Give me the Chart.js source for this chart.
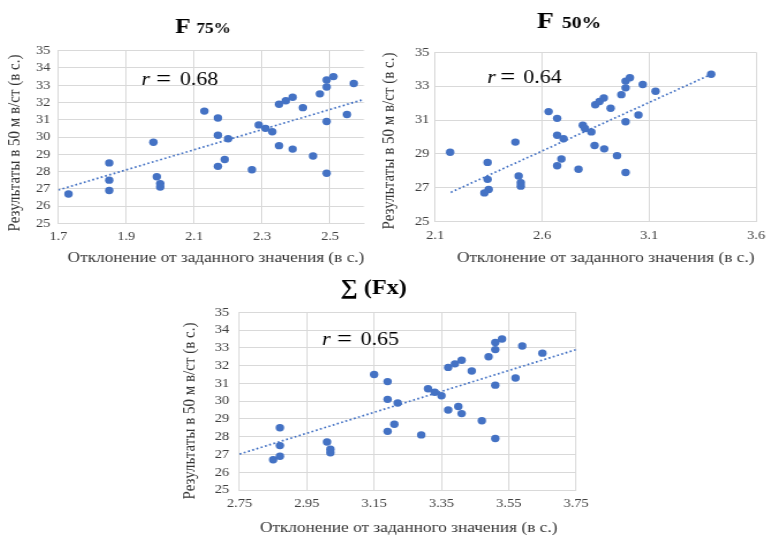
<!DOCTYPE html>
<html><head><meta charset="utf-8">
<script src="https://cdn.jsdelivr.net/npm/chart.js@4.4.1/dist/chart.umd.min.js"></script>
<style>
html,body{margin:0;padding:0;background:#fff;}
body{width:772px;height:535px;position:relative;overflow:hidden;}
.box{position:absolute;transform-origin:0 0;}
.box canvas{display:block;}
</style></head><body>
<div class="box" id="b1"><canvas id="c1"></canvas></div>
<div class="box" id="b2"><canvas id="c2"></canvas></div>
<div class="box" id="b3"><canvas id="c3"></canvas></div>
<script>
// ---------- data ----------
const x75 = [1.73,1.85,1.85,1.85,1.98,1.99,2.00,2.00,2.13,2.17,2.17,2.17,2.20,2.19,2.27,2.29,2.31,2.33,2.35,2.35,2.37,2.39,2.39,2.42,2.45,2.47,2.49,2.49,2.49,2.49,2.51,2.55,2.57];
const y75 = [26.7,28.5,27.5,26.9,29.7,27.7,27.3,27.1,31.5,31.1,30.1,28.3,29.9,28.7,28.1,30.7,30.5,30.3,31.9,29.5,32.1,32.3,29.3,31.7,28.9,32.5,33.3,32.9,30.9,27.9,33.5,31.3,33.1];
const trend75X = [1.7, 2.595];
const trend75Y = [26.93, 32.15];
const xTicks75 = [1.7, 1.9, 2.1, 2.3, 2.5];
const xLabels75 = ['1.7','1.9','2.1','2.3','2.5'];
const yTicks75 = [25,26,27,28,29,30,31,32,33,34,35];

const x50 = [2.17,2.345,2.345,2.35,2.33,2.475,2.49,2.50,2.50,2.63,2.67,2.67,2.67,2.70,2.69,2.77,2.79,2.80,2.83,2.848,2.868,2.888,2.845,2.89,2.92,2.95,2.97,2.99,2.99,2.99,2.99,3.01,3.05,3.07,3.13,3.39];
const y50 = [29.1,28.5,27.5,26.9,26.7,29.7,27.7,27.3,27.1,31.5,31.1,30.1,28.3,29.9,28.7,28.1,30.7,30.5,30.3,31.9,32.1,32.3,29.5,29.3,31.7,28.9,32.5,33.3,32.9,30.9,27.9,33.5,31.3,33.1,32.7,33.7];
const trend50X = [2.173, 3.39];
const trend50Y = [26.73, 33.7];
const xTicks50 = [2.1, 2.6, 3.1, 3.6];
const xLabels50 = ['2.1','2.6','3.1','3.6'];
const yTicks50 = [25,27,29,31,33,35];

const xFx = [2.85,2.87,2.87,2.87,3.01,3.02,3.02,3.15,3.19,3.19,3.19,3.22,3.21,3.29,3.31,3.33,3.35,3.37,3.37,3.39,3.41,3.40,3.41,3.44,3.47,3.49,3.51,3.51,3.51,3.51,3.53,3.57,3.59,3.65];
const yFx = [26.7,26.9,27.5,28.5,27.7,27.3,27.1,31.5,31.1,30.1,28.3,29.9,28.7,28.1,30.7,30.5,30.3,31.9,29.5,32.1,32.3,29.7,29.3,31.7,28.9,32.5,33.3,32.9,30.9,27.9,33.5,31.3,33.1,32.7];
const trendFxX = [2.75, 3.75];
const trendFxY = [27.02, 32.9];
const xTicksFx = [2.75, 2.95, 3.15, 3.35, 3.55, 3.75];
const xLabelsFx = ['2.75','2.95','3.15','3.35','3.55','3.75'];
const yTicksFx = [25,26,27,28,29,30,31,32,33,34,35];

const yTitle = 'Результаты в 50 м в/ст (в с.)';
const xTitle = 'Отклонение от заданного значения (в с.)';

// ---------- drawing ----------
const S = 1.15;
const FAM = "'Liberation Serif','Times New Roman',serif";
const BLUE = '#4472C4';
const GRID = '#d9d9d9';
const TICK = '#404040';

function textPlugin(items){
  return {id:'txt', afterDraw(chart){
    const ctx = chart.ctx;
    items.forEach(it=>{
      ctx.save();
      ctx.font = it.font; ctx.fillStyle = it.color || '#000';
      ctx.textAlign = it.align || 'left'; ctx.textBaseline = it.base || 'alphabetic';
      ctx.translate(it.x, it.y);
      if (it.rot) ctx.rotate(it.rot);
      ctx.fillText(it.t, 0, 0);
      ctx.restore();
    });
  }};
}

function make(o){
  const box = document.getElementById(o.box);
  const Wi = o.Wp / S;
  box.style.left = o.L + 'px'; box.style.top = o.T + 'px';
  box.style.width = Wi + 'px'; box.style.height = o.H + 'px';
  box.style.transform = 'scaleX(' + S + ')';
  const yW = (o.PL - o.L) / S;
  const padR = (o.L + o.Wp - o.PR) / S;
  const padT = o.PT - o.T;
  const xH = o.T + o.H - o.PB;
  const pts = o.xs.map((x,i)=>({x:x, y:o.ys[i]}));
  const tr = o.tx.map((x,i)=>({x:x, y:o.ty[i]}));
  return new Chart(document.getElementById(o.canvas), {
    type:'scatter',
    data:{datasets:[
      {data:pts, backgroundColor:BLUE, borderColor:BLUE, pointRadius:3.7, pointHoverRadius:3.7, borderWidth:0},
      {data:tr, showLine:true, borderColor:BLUE, borderWidth:1.7, borderDash:[1.7,2.2], pointRadius:0, fill:false}
    ]},
    options:{
      responsive:true, maintainAspectRatio:false, animation:false,
      layout:{padding:{left:0, right:padR, top:padT, bottom:0}},
      plugins:{legend:{display:false}, title:{display:false}, tooltip:{enabled:false}},
      events:[],
      scales:{
        x:{type:'linear', min:o.xmin, max:o.xmax,
          afterBuildTicks:s=>{ s.ticks = o.xt.map(v=>({value:v})); },
          afterFit:s=>{ s.height = xH; },
          grid:{color:GRID, drawTicks:false, lineWidth:1},
          border:{color:GRID},
          ticks:{font:{family:FAM, size:12.5}, color:TICK, padding:o.xpad, maxRotation:0, minRotation:0, autoSkip:false,
            callback:(v,i)=>o.xl[i]}
        },
        y:{type:'linear', min:25, max:35,
          afterBuildTicks:s=>{ s.ticks = o.yt.map(v=>({value:v})); },
          afterFit:s=>{ s.width = yW; },
          grid:{color:GRID, drawTicks:false, lineWidth:1},
          border:{color:GRID},
          ticks:{font:{family:FAM, size:12.5}, color:TICK, padding:o.ypad, autoSkip:false,
            callback:(v)=>String(v)}
        }
      }
    },
    plugins:[textPlugin(o.texts.map(t=>Object.assign({}, t, {x:(t.px - o.L)/S, y:t.py - o.T})))]
  });
}

const axT = '15px ' + FAM;
const rFontI = 'italic 19px ' + FAM;
const rEq = '23px ' + FAM;
const rFont = '19px ' + FAM;

make({box:'b1', canvas:'c1', L:0, T:0, Wp:380, H:270, PL:58.3, PR:364, PT:50.7, PB:223.3,
  xs:x75, ys:y75, tx:trend75X, ty:trend75Y, xmin:1.7, xmax:2.6, xt:xTicks75, xl:xLabels75, yt:yTicks75,
  xpad:6, ypad:7,
  texts:[
    {t:'F', font:'bold 22px '+FAM, px:175, py:33},
    {t:'75%', font:'bold 15px '+FAM, px:196.5, py:33},
    {t:yTitle, font:axT, color:'#333', px:15, py:143, rot:-Math.PI/2, align:'center', base:'middle'},
    {t:xTitle, font:axT, color:'#333', px:216, py:258, align:'center', base:'middle'},
    {t:'r', font:rFontI, px:141.5, py:85},
    {t:'=', font:rEq, px:156, py:86},
    {t:'0.68', font:rFont, px:180, py:85}
  ]});

make({box:'b2', canvas:'c2', L:380, T:0, Wp:392, H:270, PL:435, PR:758.3, PT:52.3, PB:221.7,
  xs:x50, ys:y50, tx:trend50X, ty:trend50Y, xmin:2.1, xmax:3.6, xt:xTicks50, xl:xLabels50, yt:yTicks50,
  xpad:7, ypad:5,
  texts:[
    {t:'F', font:'bold 24px '+FAM, px:536.5, py:28},
    {t:'50%', font:'bold 17px '+FAM, px:561.5, py:28},
    {t:yTitle, font:axT, color:'#333', px:389, py:141, rot:-Math.PI/2, align:'center', base:'middle'},
    {t:xTitle, font:axT, color:'#333', px:605, py:258, align:'center', base:'middle'},
    {t:'r', font:rFontI, px:487, py:83},
    {t:'=', font:rEq, px:500, py:84},
    {t:'0.64', font:rFont, px:523, py:83}
  ]});

make({box:'b3', canvas:'c3', L:160, T:270, Wp:440, H:265, PL:239.3, PR:575, PT:312.3, PB:490,
  xs:xFx, ys:yFx, tx:trendFxX, ty:trendFxY, xmin:2.75, xmax:3.75, xt:xTicksFx, xl:xLabelsFx, yt:yTicksFx,
  xpad:6, ypad:9,
  texts:[
    {t:'∑ (Fx)', font:'bold 21px '+FAM, px:340, py:294},
    {t:yTitle, font:axT, color:'#333', px:190, py:411, rot:-Math.PI/2, align:'center', base:'middle'},
    {t:xTitle, font:axT, color:'#333', px:408, py:528, align:'center', base:'middle'},
    {t:'r', font:rFontI, px:321.5, py:345},
    {t:'=', font:rEq, px:336.5, py:346},
    {t:'0.65', font:rFont, px:360, py:345}
  ]});
</script>
</body></html>
